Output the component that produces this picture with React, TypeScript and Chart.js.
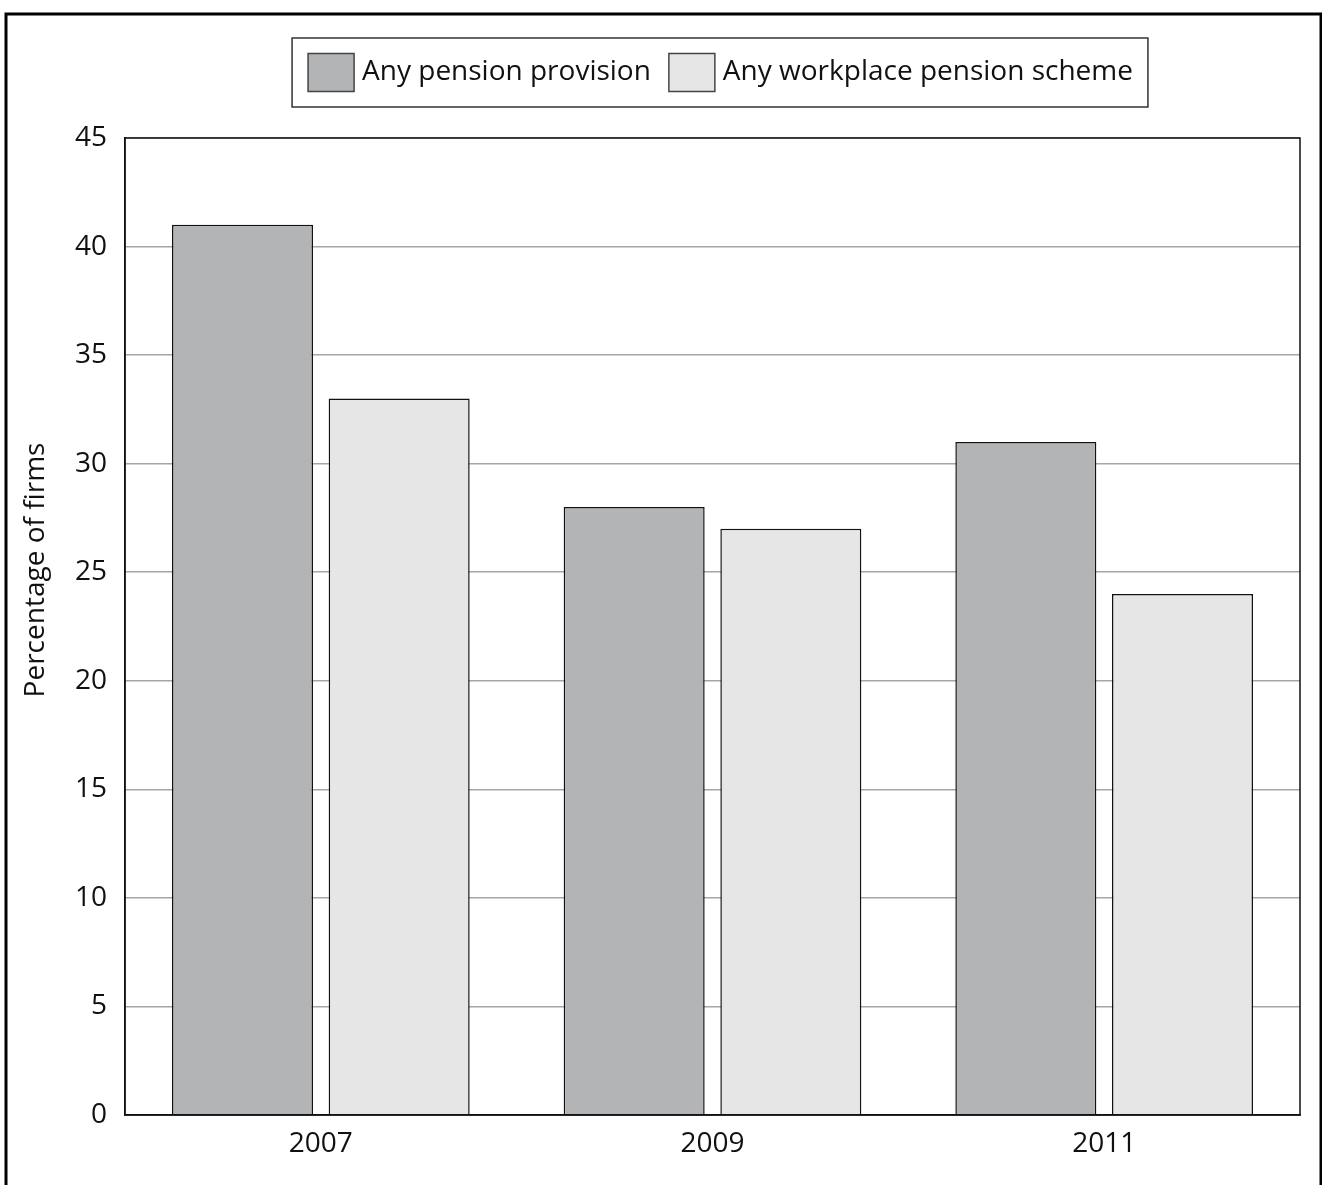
import React, { useEffect, useRef } from "react";
import { Chart, registerables } from "chart.js";

Chart.register(...registerables);

const categories = ["2007", "2009", "2011"];
const seriesNames = ["Any pension provision", "Any workplace pension scheme"];
const anyPension = [41, 28, 31];
const workplacePension = [33, 27, 24];
const yTicks = [0, 5, 10, 15, 20, 25, 30, 35, 40, 45];
const yTitle = "Percentage of firms";

const FONT = "'Open Sans', 'DejaVu Sans', sans-serif";
const darkFill = "#b3b4b6";
const lightFill = "#e6e6e6";

const framePlugin = {
  id: "frameAndLegend",
  afterDraw(chart: any) {
    const ctx = chart.ctx;
    const ca = chart.chartArea;
    ctx.save();
    // plot box
    ctx.strokeStyle = "#111";
    ctx.lineWidth = 1.5;
    ctx.strokeRect(ca.left, ca.top, ca.right - ca.left, ca.bottom - ca.top);
    // outer frame
    ctx.strokeStyle = "#000";
    ctx.lineWidth = 3;
    ctx.beginPath();
    ctx.moveTo(6, 1200);
    ctx.lineTo(6, 14);
    ctx.lineTo(1321, 14);
    ctx.lineTo(1321, 1200);
    ctx.stroke();
    // y axis title
    ctx.save();
    ctx.translate(36, 570);
    ctx.rotate(-Math.PI / 2);
    ctx.font = `28px ${FONT}`;
    ctx.fillStyle = "#111";
    ctx.textAlign = "center";
    ctx.textBaseline = "middle";
    ctx.fillText(yTitle, 0, 0);
    ctx.restore();
    // legend
    ctx.font = `28px ${FONT}`;
    ctx.textBaseline = "middle";
    const padL = 16, sw = 46, sh = 38, gap = 8, itemGap = 18, padR = 15;
    const ds = chart.data.datasets;
    const widths = ds.map((d: any) => ctx.measureText(d.label).width);
    let total = padL + padR;
    widths.forEach((w: number, i: number) => {
      total += sw + gap + w + (i < widths.length - 1 ? itemGap : 0);
    });
    const cx = 720;
    const boxLeft = cx - total / 2;
    const boxTop = 38, boxH = 69;
    ctx.fillStyle = "#fff";
    ctx.fillRect(boxLeft, boxTop, total, boxH);
    ctx.strokeStyle = "#333";
    ctx.lineWidth = 1.5;
    ctx.strokeRect(boxLeft, boxTop, total, boxH);
    let x = boxLeft + padL;
    const cy = boxTop + boxH / 2;
    ds.forEach((d: any, i: number) => {
      ctx.fillStyle = d.backgroundColor;
      ctx.fillRect(x, cy - sh / 2, sw, sh);
      ctx.strokeStyle = "#444";
      ctx.lineWidth = 1.5;
      ctx.strokeRect(x, cy - sh / 2, sw, sh);
      x += sw + gap;
      ctx.fillStyle = "#111";
      ctx.textAlign = "left";
      ctx.fillText(d.label, x, cy);
      x += widths[i] + itemGap;
    });
    ctx.restore();
  },
};

export default function App() {
  const ref = useRef<HTMLCanvasElement>(null);
  useEffect(() => {
    if (!ref.current) return;
    const chart = new Chart(ref.current, {
      type: "bar",
      data: {
        labels: categories,
        datasets: [
          {
            label: seriesNames[0],
            data: anyPension,
            backgroundColor: darkFill,
            borderColor: "#111",
            borderWidth: 1.5,
            categoryPercentage: 0.8,
            barPercentage: 0.9,
          },
          {
            label: seriesNames[1],
            data: workplacePension,
            backgroundColor: lightFill,
            borderColor: "#111",
            borderWidth: 1.5,
            categoryPercentage: 0.8,
            barPercentage: 0.9,
          },
        ],
      },
      options: {
        responsive: false,
        animation: false,
        devicePixelRatio: 1,
        layout: { padding: { left: 0, top: 138, right: 22, bottom: 0 } },
        plugins: { legend: { display: false }, tooltip: { enabled: false } },
        scales: {
          x: {
            grid: { display: false, drawTicks: false },
            border: { display: true, color: "#111", width: 1.5 },
            ticks: { color: "#111", font: { family: FONT, size: 28 }, padding: 12 },
            afterFit(scale: any) {
              scale.height = 70;
            },
          },
          y: {
            min: 0,
            max: 45,
            afterBuildTicks(scale: any) {
              scale.ticks = yTicks.map((v) => ({ value: v }));
            },
            grid: { color: "#a6a6a6", lineWidth: 1.5, drawTicks: false },
            border: { display: true, color: "#111", width: 1.5 },
            ticks: { color: "#111", font: { family: FONT, size: 28 }, padding: 18 },
            title: { display: false },
            afterFit(scale: any) {
              scale.width = 125;
            },
          },
        },
      },
      plugins: [framePlugin],
    });
    return () => chart.destroy();
  }, []);
  return (
    <div style={{ position: "absolute", left: 0, top: 0, width: 1322, height: 1185, background: "#fff" }}>
      <canvas ref={ref} width={1322} height={1185} />
    </div>
  );
}
